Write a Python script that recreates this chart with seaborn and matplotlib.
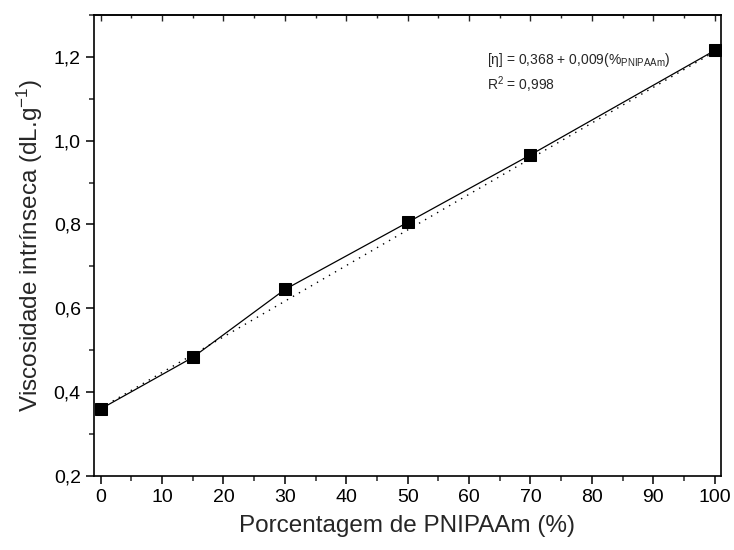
import numpy as np
import pandas as pd
import matplotlib
matplotlib.use("Agg")
import matplotlib.pyplot as plt
import seaborn as sns
from matplotlib.ticker import FuncFormatter, MultipleLocator

# data
pnipaam_pct = [0, 15, 30, 50, 70, 100]
visc_intrinseca = [0.360, 0.483, 0.645, 0.805, 0.966, 1.215]

# linear fit line (dotted), as it appears in the chart
fit_x = [0, 100]
fit_y = [0.362, 1.212]

data = pd.DataFrame({"pct": pnipaam_pct, "visc": visc_intrinseca})
fit = pd.DataFrame({"pct": fit_x, "visc": fit_y})

sns.set_style("ticks")
plt.rcParams["font.family"] = ["Liberation Sans", "DejaVu Sans"]
plt.rcParams["mathtext.default"] = "regular"

fig = plt.figure(figsize=(7.34, 5.5), dpi=100)
ax = fig.add_axes([0.128, 0.1345, 0.854, 0.8385])

sns.lineplot(data=fit, x="pct", y="visc", ax=ax, color="black",
             linestyle=(0, (1, 4)), linewidth=1.0)
sns.lineplot(data=data, x="pct", y="visc", ax=ax, color="black",
             linewidth=0.9, marker="s", markersize=8, markeredgecolor="black")

ax.set_xlim(-1.1, 101)
ax.set_ylim(0.2, 1.3)

ax.xaxis.set_major_locator(MultipleLocator(10))
ax.xaxis.set_minor_locator(MultipleLocator(5))
ax.yaxis.set_major_locator(MultipleLocator(0.2))
ax.yaxis.set_minor_locator(MultipleLocator(0.1))
ax.yaxis.set_major_formatter(FuncFormatter(lambda v, p: f"{v:.1f}".replace(".", ",")))

ax.tick_params(which="major", direction="out", length=6, width=1.1, labelsize=14, colors="black")
ax.tick_params(which="minor", direction="out", length=3.5, width=1.1)

top = ax.secondary_xaxis("top")
top.xaxis.set_major_locator(MultipleLocator(10))
top.xaxis.set_minor_locator(MultipleLocator(5))
top.tick_params(which="major", direction="in", length=4, width=1.0, labeltop=False)
top.tick_params(which="minor", direction="in", length=2.5, width=1.0)
top.spines["top"].set_linewidth(1.2)

for s in ax.spines.values():
    s.set_linewidth(1.2)
    s.set_color("black")

ax.set_xlabel("Porcentagem de PNIPAAm (%)", fontsize=17.5, labelpad=6)
ax.set_ylabel("Viscosidade intrínseca (dL.g$^{-1}$)", fontsize=17.5, labelpad=6)

ax.text(0.627, 0.902, "[η] = 0,368 + 0,009(%$_{PNIPAAm}$)", transform=ax.transAxes,
        fontsize=10, va="center")
ax.text(0.627, 0.848, "R$^2$ = 0,998", transform=ax.transAxes, fontsize=10, va="center")

fig.savefig("out.png", dpi=100)
